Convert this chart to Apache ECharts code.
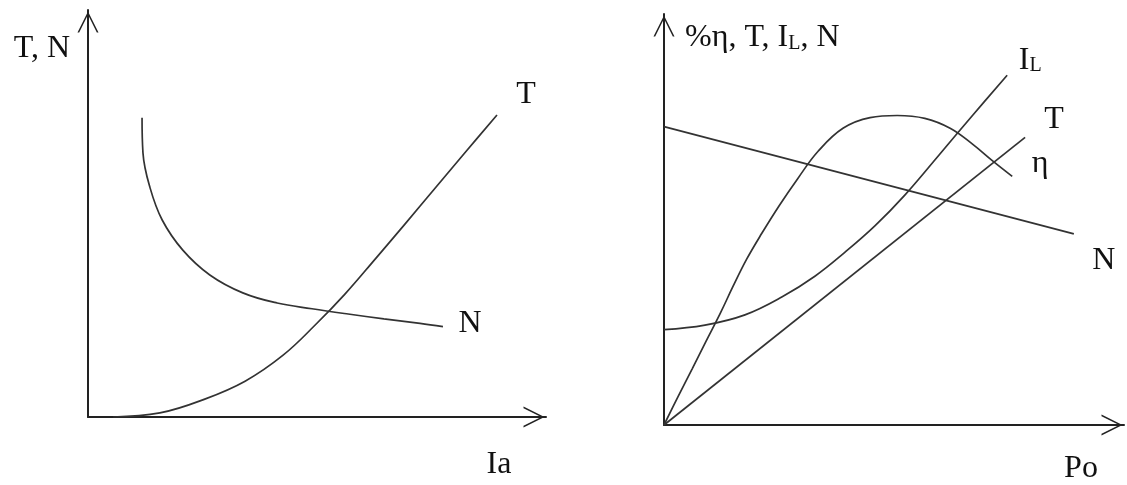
<!DOCTYPE html>
<html>
<head>
<meta charset="utf-8">
<script src="https://cdn.jsdelivr.net/npm/echarts@6.0.0/dist/echarts.min.js"></script>
<style>
  html, body { margin: 0; padding: 0; background: #fff; }
  #main { width: 1127px; height: 485px; }
</style>
</head>
<body>
<div id="main"></div>
<script>
// left: torque and speed against armature current (Ia)
const leftT = [
  [0.55, 0], [1.57, 0.1], [2.55, 0.44], [3.43, 0.88], [4.26, 1.52],
  [4.96, 2.26], [5.61, 3.02], [6.27, 3.88], [6.92, 4.74], [7.6, 5.65],
  [8.28, 6.56], [8.93, 7.42]
];
const leftN = [
  [1.18, 7.35], [1.2, 6.49], [1.35, 5.65], [1.62, 4.84], [2.07, 4.1],
  [2.66, 3.49], [3.38, 3.05], [4.13, 2.8], [4.89, 2.66], [5.68, 2.53],
  [6.46, 2.41], [7.25, 2.3], [7.75, 2.22]
];
// right: efficiency, torque, line current and speed against output (Po)
const rightN = [[0, 7.26], [8.91, 4.65]];
const rightT = [[0, 0], [7.85, 7.0]];
const rightIL = [
  [0, 2.32], [0.89, 2.43], [1.76, 2.68], [2.57, 3.12], [3.28, 3.62],
  [3.93, 4.2], [4.59, 4.85], [5.24, 5.6], [5.98, 6.57], [6.72, 7.55],
  [7.46, 8.51]
];
const rightEta = [
  [0, 0], [0.3, 0.68], [0.61, 1.36], [0.91, 2.03], [1.22, 2.71],
  [1.5, 3.37], [1.8, 4.04], [2.13, 4.67], [2.5, 5.33], [2.91, 6.0],
  [3.35, 6.66], [3.89, 7.22], [4.48, 7.48], [5.07, 7.53], [5.67, 7.46],
  [6.22, 7.22], [6.7, 6.84], [7.15, 6.42], [7.57, 6.05]
];

const font = "'Liberation Serif', 'Times New Roman', serif";
const ink = "#111";
const fs = 32;
const chevron = "path://M5,0 L10,10 L9.2,10 L5,1.6 L0.8,10 L0,10 Z";

const chartDom = document.getElementById("main");
const myChart = echarts.init(chartDom);

const subRich = {
  m: { fontSize: fs, fontFamily: font, color: ink },
  s: { fontSize: 20, fontFamily: font, color: ink, verticalAlign: "bottom" },
};

function axisLine() {
  return {
    show: true,
    onZero: false,
    symbol: ["none", chevron],
    symbolSize: [21, 24],
    symbolOffset: [0, -12],
    lineStyle: { color: "#222", width: 2 },
  };
}

function endMark(points, text, offset) {
  return {
    symbol: "circle",
    symbolSize: 2,
    silent: true,
    itemStyle: { color: "rgba(0,0,0,0)" },
    label: {
      show: true,
      position: "inside",
      offset: offset,
      formatter: text,
      color: ink,
      fontFamily: font,
      fontSize: fs,
      rich: subRich,
    },
    data: [{ coord: points[points.length - 1] }],
  };
}

function curve(name, points, xi, text, offset) {
  return {
    name: name,
    type: "line",
    xAxisIndex: xi,
    yAxisIndex: xi,
    data: points,
    smooth: 0.4,
    smoothConstraint: false,
    showSymbol: false,
    symbol: "none",
    lineStyle: { color: "#333", width: 1.7 },
    markPoint: endMark(points, text, offset),
  };
}

const hidden = {
  axisTick: { show: false },
  axisLabel: { show: false },
  splitLine: { show: false },
};

let option = {
  animation: false,
  backgroundColor: "#fff",
  grid: [
    { left: 88, top: 10, width: 458, height: 407 },
    { left: 664, top: 14, width: 460, height: 413 },
  ],
  xAxis: [
    {
      type: "value", gridIndex: 0, min: 0, max: 10, ...hidden,
      axisLine: axisLine(),
      name: "Ia", nameLocation: "end", nameGap: -47, nameMoveOverlap: false,
      nameTextStyle: {
        fontFamily: font, fontSize: fs, color: ink,
        align: "center", verticalAlign: "top", padding: [32, 0, 0, 0],
      },
    },
    {
      type: "value", gridIndex: 1, min: 0, max: 10, ...hidden,
      axisLine: axisLine(),
      name: "Po", nameLocation: "end", nameGap: -43, nameMoveOverlap: false,
      nameTextStyle: {
        fontFamily: font, fontSize: fs, color: ink,
        align: "center", verticalAlign: "top", padding: [28, 0, 0, 0],
      },
    },
  ],
  yAxis: [
    {
      type: "value", gridIndex: 0, min: 0, max: 10, ...hidden,
      axisLine: axisLine(),
      name: "T, N", nameLocation: "end", nameGap: -39, nameMoveOverlap: false,
      nameTextStyle: {
        fontFamily: font, fontSize: fs, color: ink,
        align: "right", verticalAlign: "middle", padding: [0, 18, 0, 0],
      },
    },
    {
      type: "value", gridIndex: 1, min: 0, max: 10, ...hidden,
      axisLine: axisLine(),
      name: "{m|%η, T, I}{s|L}{m|, N}", nameLocation: "end", nameGap: -24,
      nameMoveOverlap: false,
      nameTextStyle: {
        fontFamily: font, fontSize: fs, color: ink,
        align: "left", verticalAlign: "middle", padding: [0, 0, 0, 21],
        rich: subRich,
      },
    },
  ],
  series: [
    curve("T", leftT, 0, "T", [29, -20]),
    curve("N", leftN, 0, "N", [27, -3]),
    curve("N", rightN, 1, "N", [30, 27]),
    curve("T", rightT, 1, "T", [29, -18]),
    curve("IL", rightIL, 1, "{m|I}{s|L}", [23, -15]),
    curve("η", rightEta, 1, "η", [28, -13]),
  ],
};

option && myChart.setOption(option);
</script>
</body>
</html>
